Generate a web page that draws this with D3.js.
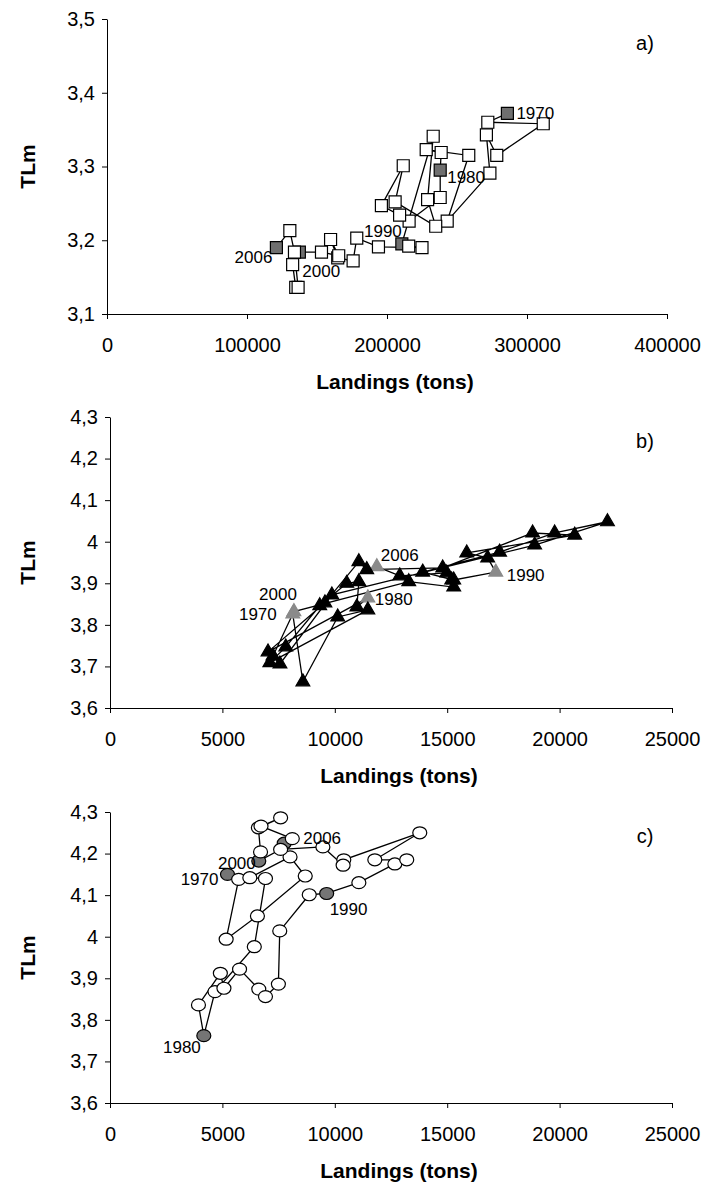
<!DOCTYPE html>
<html>
<head>
<meta charset="utf-8">
<script src="https://cdn.jsdelivr.net/npm/d3@7"></script>
<style>
  body { margin: 0; background: #fff; }
  svg { display: block; font-family: "Liberation Sans", Arial, sans-serif; }
  .axis path, .axis line { stroke: #000; stroke-width: 1; }
  .axis text { font-size: 20px; fill: #000; }
  .title { font-size: 21px; font-weight: bold; }
  .year { font-size: 17px; }
</style>
</head>
<body>
<svg width="705" height="1184"></svg>
<script>
// years of each series (1970-2006)
var years = [1970,1971,1972,1973,1974,1975,1976,1977,1978,1979,
             1980,1981,1982,1983,1984,1985,1986,1987,1988,1989,
             1990,1991,1992,1993,1994,1995,1996,1997,1998,1999,
             2000,2001,2002,2003,2004,2005,2006];
var labelYears = [1970, 1980, 1990, 2000, 2006];

// a) landings (tons) and TLm
var landA = [286000,272000,311600,278400,271000,273500,243000,258400,228000,238700,
             238000,238000,215800,209000,196000,211600,205800,234800,229000,233000,
             210600,215500,225000,193900,178400,175800,164800,159700,165500,153200,
             137400,132600,134800,136500,133900,130600,121000];
var tlmA  = [3.372,3.360,3.358,3.315,3.343,3.291,3.226,3.315,3.323,3.319,
             3.295,3.258,3.226,3.234,3.247,3.301,3.252,3.219,3.255,3.341,
             3.195,3.192,3.190,3.191,3.203,3.172,3.176,3.201,3.179,3.184,
             3.184,3.167,3.136,3.136,3.184,3.213,3.190];

// b)
var landB = [8130,8580,10130,11470,7110,7820,9330,10530,11070,10980,
             11470,7030,9560,11070,11420,14800,18800,20670,15870,16800,
             17160,15290,13910,17330,19780,22130,18890,9870,7560,7250,
             8180,13290,15290,15200,14980,12890,11870];
var tlmB  = [3.826,3.663,3.819,3.836,3.709,3.747,3.846,3.900,3.904,3.843,
             3.865,3.735,3.853,3.952,3.933,3.937,4.021,4.016,3.973,3.961,
             3.927,3.908,3.927,3.975,4.021,4.048,3.992,3.872,3.706,3.725,
             3.832,3.904,3.891,3.908,3.925,3.918,3.940];

// c)
var landC = [5226,5723,5167,6558,8685,8009,6220,6916,6419,4670,
             4173,3935,4909,5068,5763,6618,6916,7491,7551,8863,
             9638,11070,12670,13200,11780,13780,10400,10370,9470,7590,
             6618,6697,6600,7590,6717,8109,7750];
var tlmC  = [4.150,4.138,3.994,4.050,4.146,4.192,4.142,4.140,3.976,3.868,
             3.762,3.836,3.912,3.876,3.922,3.874,3.856,3.886,4.014,4.101,
             4.104,4.130,4.175,4.185,4.185,4.250,4.185,4.172,4.216,4.210,
             4.182,4.204,4.262,4.286,4.266,4.236,4.225];

// ticks
var xTicksA = [0, 100000, 200000, 300000, 400000];
var xLabelsA = ["0", "100000", "200000", "300000", "400000"];
var xTicksBC = [0, 5000, 10000, 15000, 20000, 25000];
var xLabelsBC = ["0", "5000", "10000", "15000", "20000", "25000"];
var yTicksA = [3.1, 3.2, 3.3, 3.4, 3.5];
var yLabelsA = ["3,1", "3,2", "3,3", "3,4", "3,5"];
var yTicksBC = [3.6, 3.7, 3.8, 3.9, 4.0, 4.1, 4.2, 4.3];
var yLabelsBC = ["3,6", "3,7", "3,8", "3,9", "4", "4,1", "4,2", "4,3"];

var svg = d3.select("svg");

var panels = [
  { tag: "a)", top: 19, bottom: 314, left: 107, right: 667,
    land: landA, tlm: tlmA, xTicks: xTicksA, xLabels: xLabelsA, yTicks: yTicksA, yLabels: yLabelsA,
    shape: "square", gray: "#6f6f6f",
    labels: { 1970: [9, 0, "start"], 1980: [7, 7, "start"], 1990: [0, -12, "end"],
              2000: [3, 19, "start"], 2006: [-4, 10, "end"] } },
  { tag: "b)", top: 417, bottom: 708, left: 110, right: 672,
    land: landB, tlm: tlmB, xTicks: xTicksBC, xLabels: xLabelsBC, yTicks: yTicksBC, yLabels: yLabelsBC,
    shape: "triangle", gray: "#8a8a8a",
    labels: { 1970: [-16, 0, "end"], 1980: [7, 2, "start"], 1990: [11, 3, "start"],
              2000: [3, -17, "end"], 2006: [4, -11, "start"] } },
  { tag: "c)", top: 812, bottom: 1103, left: 110, right: 672,
    land: landC, tlm: tlmC, xTicks: xTicksBC, xLabels: xLabelsBC, yTicks: yTicksBC, yLabels: yLabelsBC,
    shape: "circle", gray: "#757575",
    labels: { 1970: [-9, 5, "end"], 1980: [-3, 12, "end"], 1990: [3, 16, "start"],
              2000: [-3, 2, "end"], 2006: [19, -5, "start"] } }
];

panels.forEach(function(p) {
  var x = d3.scaleLinear()
    .domain([p.xTicks[0], p.xTicks[p.xTicks.length - 1]])
    .range([p.left, p.right]);
  var y = d3.scaleLinear()
    .domain([p.yTicks[0], p.yTicks[p.yTicks.length - 1]])
    .range([p.bottom, p.top]);

  // axes
  svg.append("g")
    .attr("class", "axis")
    .attr("transform", "translate(0," + p.bottom + ")")
    .call(d3.axisBottom(x).tickValues(p.xTicks)
      .tickFormat(function(d, i) { return p.xLabels[i]; })
      .tickSize(5).tickSizeOuter(0).tickPadding(19));

  svg.append("g")
    .attr("class", "axis")
    .attr("transform", "translate(" + p.left + ",0)")
    .call(d3.axisLeft(y).tickValues(p.yTicks)
      .tickFormat(function(d, i) { return p.yLabels[i]; })
      .tickSize(5).tickSizeOuter(0).tickPadding(7));

  // titles
  svg.append("text")
    .attr("class", "title")
    .attr("x", (p.left + p.right) / 2 + 8)
    .attr("y", p.bottom + 75)
    .attr("text-anchor", "middle")
    .text("Landings (tons)");

  svg.append("text")
    .attr("class", "title")
    .attr("transform", "translate(27," + ((p.top + p.bottom) / 2) + ") rotate(-90)")
    .attr("text-anchor", "middle")
    .attr("dominant-baseline", "central")
    .text("TLm");

  svg.append("text")
    .attr("x", 645)
    .attr("y", p.top + 24)
    .attr("text-anchor", "middle")
    .attr("dominant-baseline", "central")
    .style("font-size", "20px")
    .text(p.tag);

  var pts = years.map(function(yr, i) {
    return { year: yr, x: x(p.land[i]), y: y(p.tlm[i]), hi: labelYears.indexOf(yr) >= 0 };
  });

  // connecting line
  svg.append("path")
    .datum(pts)
    .attr("fill", "none")
    .attr("stroke", "#000")
    .attr("stroke-width", 1.3)
    .attr("d", d3.line().x(function(d) { return d.x; }).y(function(d) { return d.y; }));

  // markers: highlighted decade years underneath, the rest on top
  var ordered = pts.filter(function(d) { return d.hi; })
    .concat(pts.filter(function(d) { return !d.hi; }));
  var g = svg.append("g");
  ordered.forEach(function(d) {
    var m;
    if (p.shape === "circle") {
      m = g.append("ellipse").attr("cx", d.x).attr("cy", d.y).attr("rx", 7).attr("ry", 6)
        .attr("fill", d.hi ? p.gray : "#fff");
    } else if (p.shape === "square") {
      m = g.append("path").attr("transform", "translate(" + d.x + "," + d.y + ")")
        .attr("d", d3.symbol().type(d3.symbolSquare).size(144)())
        .attr("fill", d.hi ? p.gray : "#fff");
    } else {
      m = g.append("path").attr("transform", "translate(" + d.x + "," + d.y + ")")
        .attr("d", d3.symbol().type(d3.symbolTriangle).size(82)())
        .attr("fill", d.hi ? p.gray : "#000");
    }
    m.attr("stroke", p.shape === "triangle" ? (d.hi ? "#8a8a8a" : "#000") : "#000")
     .attr("stroke-width", 1.2);
  });

  // year labels
  labelYears.forEach(function(yr) {
    var d = pts[years.indexOf(yr)];
    var o = p.labels[yr];
    svg.append("text")
      .attr("class", "year")
      .attr("x", d.x + o[0])
      .attr("y", d.y + o[1])
      .attr("text-anchor", o[2])
      .attr("dominant-baseline", "central")
      .text(yr);
  });
});
</script>
</body>
</html>
